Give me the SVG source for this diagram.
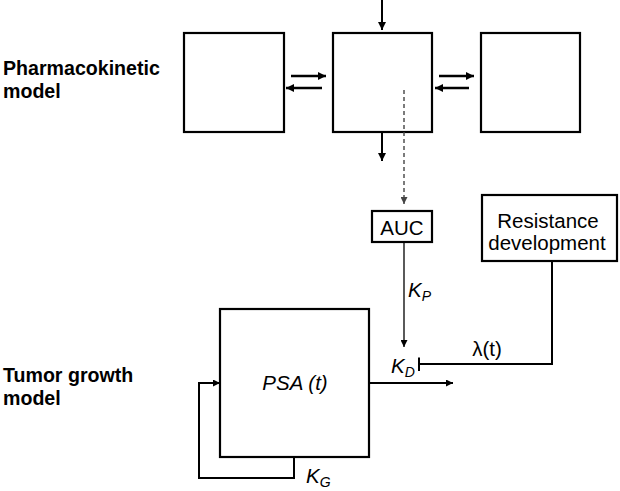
<svg xmlns="http://www.w3.org/2000/svg" width="620" height="491" viewBox="0 0 620 491">
<style>
.box{fill:#fff;stroke:#000;stroke-width:2.2}
.ln{fill:none;stroke:#000;stroke-width:2}
.pk{fill:none;stroke:#000;stroke-width:2.6}
.thin{fill:none;stroke:#000;stroke-width:1.3}
.dash{fill:none;stroke:#444;stroke-width:1.4;stroke-dasharray:4,3}
text{font-family:"Liberation Sans",Arial,sans-serif;font-size:20.5px;fill:#000}
.b{font-weight:bold;font-size:19.6px}
.i{font-style:italic}
.sub{font-size:14px;font-style:italic}
</style>
<defs>
<marker id="ah" viewBox="0 0 10 10" refX="10" refY="5" markerWidth="9" markerHeight="8" markerUnits="userSpaceOnUse" orient="auto"><path d="M0,0 L10,5 L0,10 z" fill="#000"/></marker>
<marker id="ahs" viewBox="0 0 10 10" refX="10" refY="5" markerWidth="8" markerHeight="7" markerUnits="userSpaceOnUse" orient="auto"><path d="M0,0 L10,5 L0,10 z" fill="#000"/></marker>
<marker id="ahg" viewBox="0 0 10 10" refX="10" refY="5" markerWidth="7" markerHeight="7" markerUnits="userSpaceOnUse" orient="auto"><path d="M0,0 L10,5 L0,10 z" fill="#444"/></marker>
</defs>
<g id="labels">
<text class="b" x="3" y="75">Pharmacokinetic</text>
<text class="b" x="3" y="98">model</text>
<text class="b" x="3" y="382">Tumor growth</text>
<text class="b" x="3" y="405">model</text>
</g>
<g id="pk1"><rect class="box" x="184" y="33" width="100" height="99"/></g>
<g id="pk2"><rect class="box" x="333" y="33" width="99" height="99"/></g>
<g id="pk3"><rect class="box" x="481" y="33" width="99" height="99"/></g>
<g id="auc"><rect class="box" x="372" y="211" width="60" height="31"/><text x="402" y="235" text-anchor="middle">AUC</text></g>
<g id="resistance"><rect class="box" x="482" y="195" width="135" height="66"/><text x="548" y="228" text-anchor="middle">Resistance</text><text x="547" y="250" text-anchor="middle">development</text></g>
<g id="psa"><rect class="box" x="220" y="309" width="149" height="148"/><text class="i" x="295" y="390" text-anchor="middle">PSA (t)</text></g>
<g id="connectors">
<line class="ln" x1="382" y1="0" x2="382" y2="30" marker-end="url(#ah)"/>
<line class="ln" x1="382" y1="132" x2="382" y2="161" marker-end="url(#ah)"/>
<line class="pk" x1="291" y1="76" x2="326" y2="76" marker-end="url(#ah)"/>
<line class="pk" x1="322" y1="88" x2="286" y2="88" marker-end="url(#ah)"/>
<line class="pk" x1="439" y1="76" x2="474" y2="76" marker-end="url(#ah)"/>
<line class="pk" x1="469" y1="88" x2="435" y2="88" marker-end="url(#ah)"/>
<line class="dash" x1="404" y1="90" x2="404" y2="204" marker-end="url(#ahg)"/>
<line class="thin" x1="404" y1="242" x2="404" y2="347" marker-end="url(#ahs)"/>
<polyline class="ln" points="552,261 552,364 419,364"/>
<line class="ln" x1="419" y1="357.5" x2="419" y2="371" stroke-width="2.4"/>
<line class="ln" x1="369" y1="383" x2="453" y2="383" marker-end="url(#ahs)"/>
<polyline class="ln" points="294,457 294,478 199,478 199,383 220,383" marker-end="url(#ahs)"/>
</g>
<g id="edge-labels">
<text class="i" x="408" y="297">K<tspan class="sub" dy="4">P</tspan></text>
<text class="i" x="391" y="373">K<tspan class="sub" dy="4">D</tspan></text>
<text x="487" y="356" text-anchor="middle">λ(t)</text>
<text class="i" x="306" y="483">K<tspan class="sub" dy="4">G</tspan></text>
</g>
</svg>
